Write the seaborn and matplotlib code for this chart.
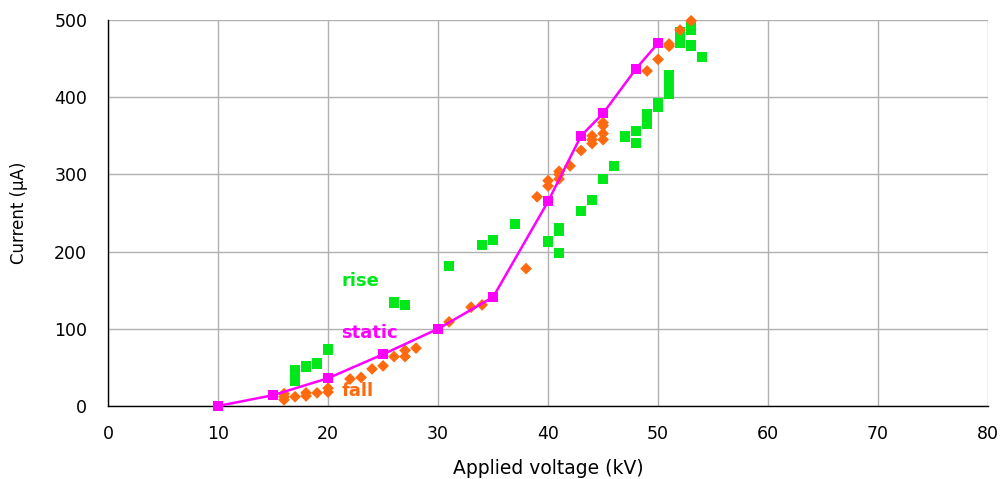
import matplotlib
matplotlib.use("Agg")
import matplotlib.pyplot as plt
import seaborn as sns
import pandas as pd

# static curve
static_v = [10, 15, 20, 25, 30, 35, 40, 43, 45, 48, 50]
static_i = [0, 14, 36, 67, 100, 141, 265, 350, 379, 437, 470]

# rise points
rise_v = [17, 17, 17, 17, 18, 19, 20, 26, 27, 31, 34, 35, 37, 40, 41, 41, 41,
          43, 44, 45, 46, 47, 48, 48, 49, 49, 50, 50, 51, 51, 51, 51,
          52, 52, 52, 53, 53, 53, 54]
rise_i = [32, 38, 43, 47, 51, 55, 73, 134, 131, 181, 209, 215, 236, 213, 198, 227, 231,
          253, 267, 294, 311, 349, 341, 356, 365, 378, 388, 392, 405, 411, 418, 428,
          470, 477, 484, 467, 487, 493, 452]

# fall points
fall_v = [16, 16, 16, 17, 18, 18, 19, 20, 20, 22, 23, 24, 25, 26, 27, 27, 28,
          31, 33, 34, 38, 39, 40, 40, 41, 41, 41, 42, 43, 44, 44, 44, 45, 45, 45, 45,
          49, 50, 51, 51, 52, 53]
fall_i = [8, 12, 16, 12, 13, 17, 17, 18, 23, 35, 37, 48, 52, 64, 64, 72, 75,
          109, 128, 131, 178, 271, 285, 292, 294, 300, 304, 311, 331, 340, 345, 350, 345, 353, 363, 367,
          434, 449, 466, 469, 487, 499]

x_ticks = [0, 10, 20, 30, 40, 50, 60, 70, 80]
y_ticks = [0, 100, 200, 300, 400, 500]

GREEN = "#00E81A"
MAGENTA = "#FF00FF"
ORANGE = "#FF6A0F"

sns.set_style("white")
plt.rcParams['font.family'] = ['DejaVu Sans']
plt.rcParams['text.color'] = 'black'
plt.rcParams['axes.labelcolor'] = 'black'
plt.rcParams['xtick.color'] = 'black'
plt.rcParams['ytick.color'] = 'black'

fig = plt.figure(figsize=(10.06, 4.79), dpi=100)
ax = fig.add_axes([0.1074, 0.1524, 0.8748, 0.8058])

rise = pd.DataFrame({"v": rise_v, "i": rise_i})
fall = pd.DataFrame({"v": fall_v, "i": fall_i})
stat = pd.DataFrame({"v": static_v, "i": static_i})

sns.scatterplot(data=rise, x="v", y="i", ax=ax, marker="s", s=55, color=GREEN,
                edgecolor="none", zorder=3, clip_on=False)
sns.scatterplot(data=fall, x="v", y="i", ax=ax, marker="D", s=36, color=ORANGE,
                edgecolor="none", zorder=4, clip_on=False)
sns.lineplot(data=stat, x="v", y="i", ax=ax, color=MAGENTA, linewidth=1.8,
             marker="s", markersize=7, markeredgewidth=0, zorder=5, clip_on=False)

ax.set_xlim(0, 80)
ax.set_ylim(0, 500)
ax.set_xticks(x_ticks)
ax.set_yticks(y_ticks)
ax.grid(True, color="#b0b0b0", linewidth=1.0)
ax.set_axisbelow(True)
for s in ["top", "right"]:
    ax.spines[s].set_visible(False)
for s in ["left", "bottom"]:
    ax.spines[s].set_color("black")
    ax.spines[s].set_linewidth(1.0)
ax.tick_params(axis="both", direction="out", length=5, width=1, color="black",
               labelsize=12.5, labelcolor="black")
ax.tick_params(axis="x", pad=9)
ax.tick_params(axis="y", pad=10)
ax.set_xlabel("Applied voltage (kV)", fontsize=13.5, labelpad=11, color="black")
ax.set_ylabel("Current (µA)", fontsize=12, labelpad=19, color="black")

ax.text(21.2, 162, "rise", color=GREEN, fontsize=13, fontweight="bold", va="center")
ax.text(21.2, 94, "static", color=MAGENTA, fontsize=13, fontweight="bold", va="center")
ax.text(21.2, 20, "fall", color=ORANGE, fontsize=13, fontweight="bold", va="center")

fig.savefig("out.png", dpi=100)
